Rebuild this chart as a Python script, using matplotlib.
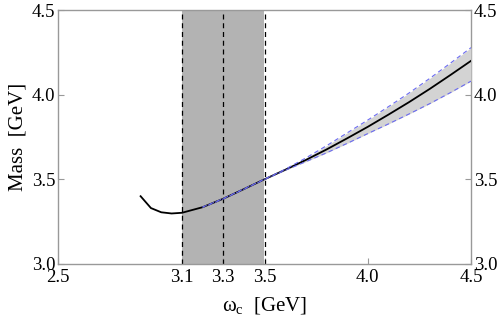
import matplotlib
matplotlib.use("Agg")
import matplotlib.pyplot as plt
import numpy as np

plt.rcParams['font.family'] = ['Liberation Serif', 'DejaVu Serif']
plt.rcParams['mathtext.fontset'] = 'custom'
plt.rcParams['mathtext.rm'] = 'Liberation Serif'

# central curve
omega = [2.90, 2.95, 3.00, 3.05, 3.10, 3.20, 3.30, 3.40, 3.50, 3.60, 3.70, 3.80, 3.90,
         4.00, 4.10, 4.20, 4.30, 4.40, 4.50]
mass = [3.40, 3.33, 3.305, 3.298, 3.302, 3.335, 3.385, 3.442, 3.50, 3.556, 3.614, 3.676,
        3.742, 3.810, 3.882, 3.956, 4.034, 4.116, 4.200]

# uncertainty band
band_x = [3.20, 3.30, 3.40, 3.50, 3.60, 3.70, 3.80, 3.90, 4.00, 4.10, 4.20, 4.30, 4.40, 4.50]
band_hi = [3.336, 3.386, 3.443, 3.501, 3.559, 3.626, 3.698, 3.774, 3.850, 3.929, 4.010,
           4.096, 4.186, 4.278]
band_lo = [3.334, 3.384, 3.441, 3.499, 3.553, 3.604, 3.656, 3.712, 3.770, 3.827, 3.886,
           3.947, 4.012, 4.080]

window = [3.1, 3.5]
vlines = [3.1, 3.3, 3.5]
xticks = [2.5, 3.1, 3.3, 3.5, 4.0, 4.5]
yticks = [3.0, 3.5, 4.0, 4.5]

fig = plt.figure(figsize=(5.0, 3.25), dpi=100)
ax = fig.add_axes([0.116, 0.188, 0.826, 0.781])

ax.axvspan(window[0], window[1], color='#b3b3b3', lw=0, zorder=1)
for v in vlines:
    ax.axvline(v, color='black', ls=(0, (4, 3)), lw=0.9, zorder=2)

ax.fill_between(band_x, band_lo, band_hi, color='#d3d3d3', lw=0, zorder=3)
ax.plot(omega, mass, color='black', lw=1.3, zorder=4)
ax.plot(band_x, band_hi, color='#6a6af0', ls=(0, (4, 3)), lw=0.8, zorder=5)
ax.plot(band_x, band_lo, color='#6a6af0', ls=(2, (4, 3)), lw=0.8, zorder=5)

ax.set_xlim(2.5, 4.5)
ax.set_ylim(3.0, 4.5)
ax.set_xticks(xticks)
ax.set_xticklabels(['2.5', '3.1', '3.3', '3.5', '4.0', '4.5'])
ax.set_yticks(yticks)
ax.set_yticklabels(['3.0', '3.5', '4.0', '4.5'])
ax.tick_params(direction='in', length=4, color='#999999', labelsize=13.5,
               right=True, labelright=True, top=False, pad=2)
ax.tick_params(axis='x', pad=4)
for s in ax.spines.values():
    s.set_color('#999999')
    s.set_linewidth(1.0)

ax.set_xlabel('ω$_{\\mathrm{c}}$  [GeV]', fontsize=15, labelpad=7)
ax.set_ylabel('Mass  [GeV]', fontsize=15, labelpad=3)

fig.savefig('out.png', dpi=100)
